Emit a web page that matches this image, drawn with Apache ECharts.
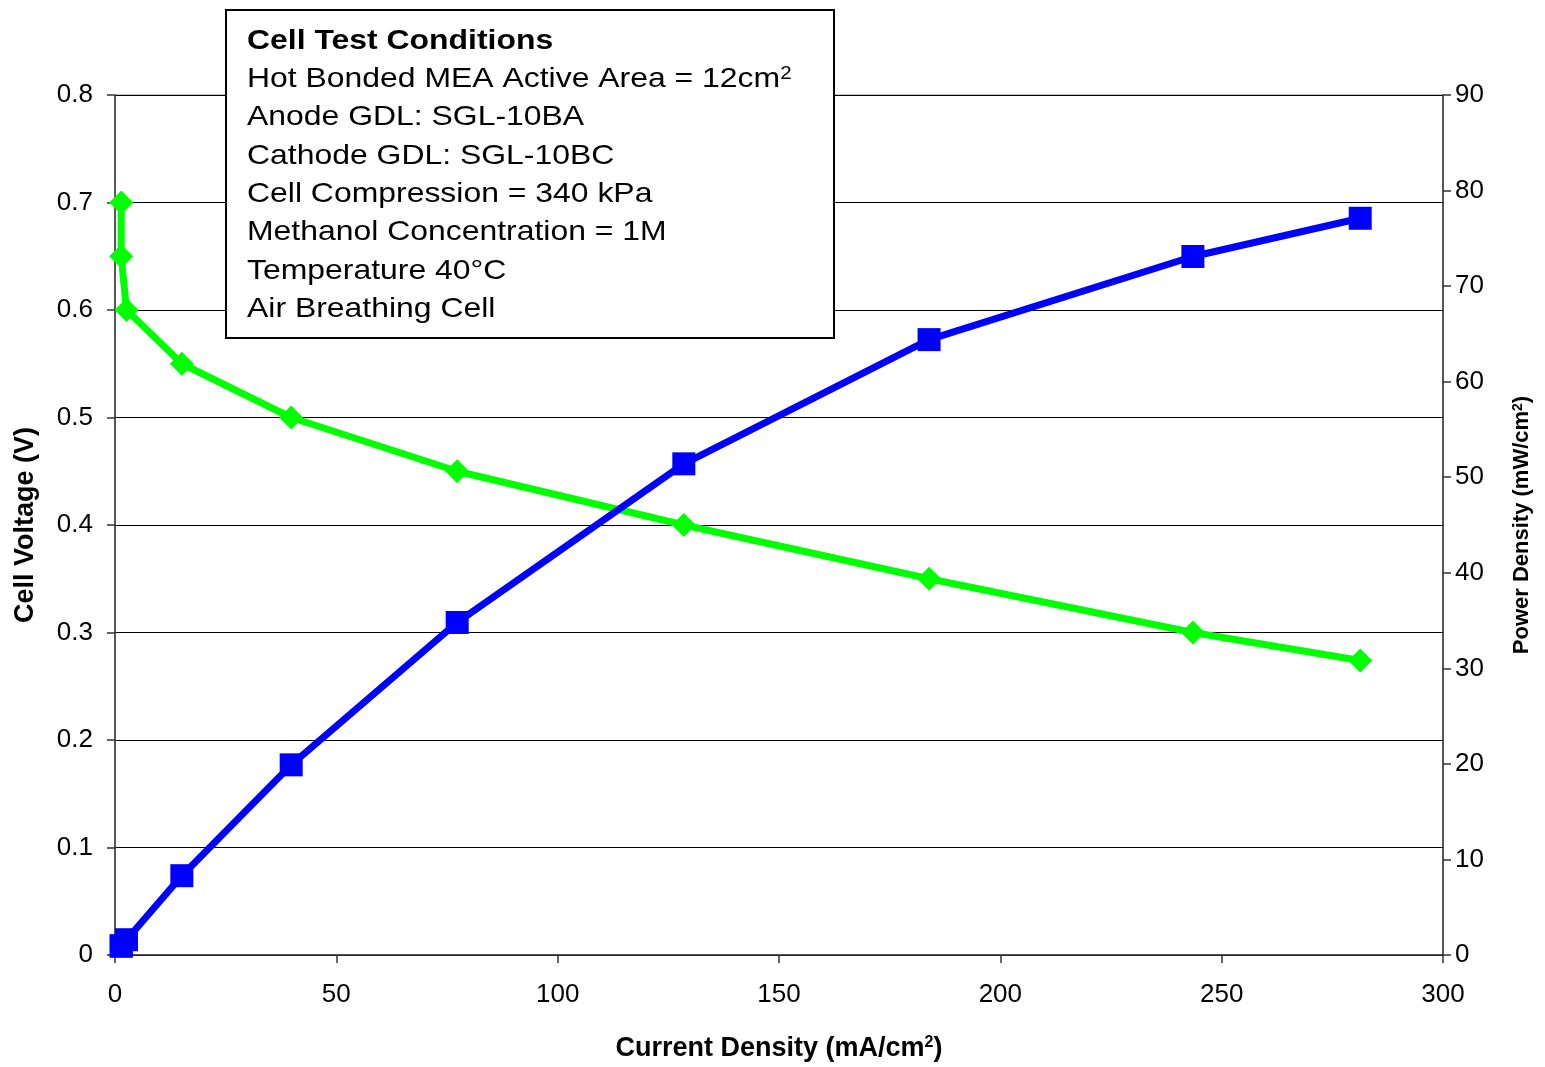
<!DOCTYPE html>
<html>
<head>
<meta charset="utf-8">
<title>DMFC Polarization and Power Density</title>
<script src="https://cdn.jsdelivr.net/npm/echarts@6/dist/echarts.min.js"></script>
<style>
  html, body { margin: 0; padding: 0; background: #fff; }
  #chart { width: 1545px; height: 1067px; }
</style>
</head>
<body>
<div id="chart"></div>
<script>
// Current density (mA/cm2) for each measured operating point
const currentDensity = [1.4, 1.4, 2.6, 15.1, 39.8, 77.3, 128.5, 183.9, 243.5, 281.3];
// Cell voltage (V)
const cellVoltage = [0.70, 0.65, 0.60, 0.55, 0.50, 0.45, 0.40, 0.35, 0.30, 0.274];
// Power density (mW/cm2)
const powerDensity = [0.98, 0.91, 1.6, 8.3, 19.9, 34.8, 51.4, 64.4, 73.1, 77.1];

const xTicks = { min: 0, max: 300, interval: 50 };
const voltageTicks = { min: 0, max: 0.8, interval: 0.1 };
const powerTicks = { min: 0, max: 90, interval: 10 };

const conditionTitle = 'Cell Test Conditions';
const conditionLines = [
  'Hot Bonded MEA Active Area = 12cm{sup|2}',
  'Anode GDL: SGL-10BA',
  'Cathode GDL: SGL-10BC',
  'Cell Compression = 340 kPa',
  'Methanol Concentration = 1M',
  'Temperature 40\u00B0C',
  'Air Breathing Cell'
];

const FONT = '"Liberation Sans", Arial, sans-serif';

const voltagePairs = currentDensity.map((c, i) => [c, cellVoltage[i]]);
const powerPairs = currentDensity.map((c, i) => [c, powerDensity[i]]);

const chart = echarts.init(document.getElementById('chart'), null, { renderer: 'canvas' });

const axisLine = { show: true, lineStyle: { color: '#333', width: 1.5 } };
const tickStyle = { lineStyle: { color: '#333', width: 1.5 } };
const labelStyle = { fontFamily: FONT, fontSize: 26, color: '#000' };

// text in the conditions box is drawn slightly wide
const BOX_TEXT_SCALE = 1.14;

chart.setOption({
  animation: false,
  backgroundColor: '#fff',
  grid: { left: 115, right: 102, top: 95, bottom: 110, containLabel: false,
          show: true, borderColor: '#888', borderWidth: 1 },
  xAxis: {
    type: 'value',
    min: xTicks.min, max: xTicks.max, interval: xTicks.interval,
    name: 'Current Density (mA/cm{sup|2})',
    nameLocation: 'middle',
    nameGap: 80,
    nameTextStyle: {
      fontFamily: FONT, fontSize: 27, fontWeight: 'bold', color: '#000',
      rich: { sup: { fontFamily: FONT, fontSize: 16, fontWeight: 'bold', color: '#000', verticalAlign: 'top' } }
    },
    axisLine: axisLine,
    axisTick: { show: true, inside: false, length: 8, ...tickStyle },
    axisLabel: { ...labelStyle, margin: 27 },
    splitLine: { show: false }
  },
  yAxis: [
    {
      type: 'value',
      position: 'left',
      min: voltageTicks.min, max: voltageTicks.max, interval: voltageTicks.interval,
      name: 'Cell Voltage (V)',
      nameLocation: 'middle',
      nameRotate: 90,
      nameGap: 76,
      nameTextStyle: { fontFamily: FONT, fontSize: 27, fontWeight: 'bold', color: '#000' },
      axisLine: axisLine,
      axisTick: { show: true, inside: false, length: 8, ...tickStyle },
      axisLabel: { ...labelStyle, margin: 22,
                   formatter: v => v === 0 ? '0' : v.toFixed(1) },
      splitLine: { show: true, lineStyle: { color: '#000', width: 1 } }
    },
    {
      type: 'value',
      position: 'right',
      alignTicks: false,
      min: powerTicks.min, max: powerTicks.max, interval: powerTicks.interval,
      name: 'Power Density (mW/cm{sup|2})',
      nameLocation: 'middle',
      nameRotate: 90,
      nameGap: 68,
      nameTextStyle: {
        fontFamily: FONT, fontSize: 22, fontWeight: 'bold', color: '#000',
        rich: { sup: { fontFamily: FONT, fontSize: 14, fontWeight: 'bold', color: '#000', verticalAlign: 'top' } }
      },
      axisLine: axisLine,
      axisTick: { show: true, inside: false, length: 8, ...tickStyle },
      axisLabel: { ...labelStyle, margin: 12 },
      splitLine: { show: false }
    }
  ],
  series: [
    {
      name: 'Cell Voltage',
      type: 'line',
      yAxisIndex: 0,
      data: voltagePairs,
      symbol: 'diamond',
      symbolSize: 24,
      lineStyle: { color: '#00ff00', width: 7 },
      itemStyle: { color: '#00ff00' },
      z: 2
    },
    {
      name: 'Power Density',
      type: 'line',
      yAxisIndex: 1,
      data: powerPairs,
      symbol: 'rect',
      symbolSize: 23,
      lineStyle: { color: '#0000ff', width: 7 },
      itemStyle: { color: '#0000ff' },
      z: 3
    }
  ],
  graphic: [
    {
      type: 'group',
      left: 225,
      top: 9,
      z: 100,
      children: [
        {
          type: 'rect',
          z: 100,
          shape: { x: 0, y: 0, width: 608, height: 328 },
          style: { fill: '#fff', stroke: '#000', lineWidth: 2 }
        },
        {
          type: 'text',
          z: 101,
          x: 21, y: 31,
          scaleX: BOX_TEXT_SCALE,
          style: {
            text: conditionTitle,
            fontFamily: FONT, fontSize: 28, fontWeight: 'bold', fill: '#000',
            verticalAlign: 'middle'
          }
        },
        ...conditionLines.map((line, i) => ({
          type: 'text',
          z: 101,
          x: 21, y: 69 + i * 38.4,
          scaleX: BOX_TEXT_SCALE,
          style: {
            text: line,
            fontFamily: FONT, fontSize: 28, fill: '#000',
            verticalAlign: 'middle',
            rich: { sup: { fontFamily: FONT, fontSize: 18, fill: '#000', verticalAlign: 'top' } }
          }
        }))
      ]
    }
  ]
});
</script>
</body>
</html>
